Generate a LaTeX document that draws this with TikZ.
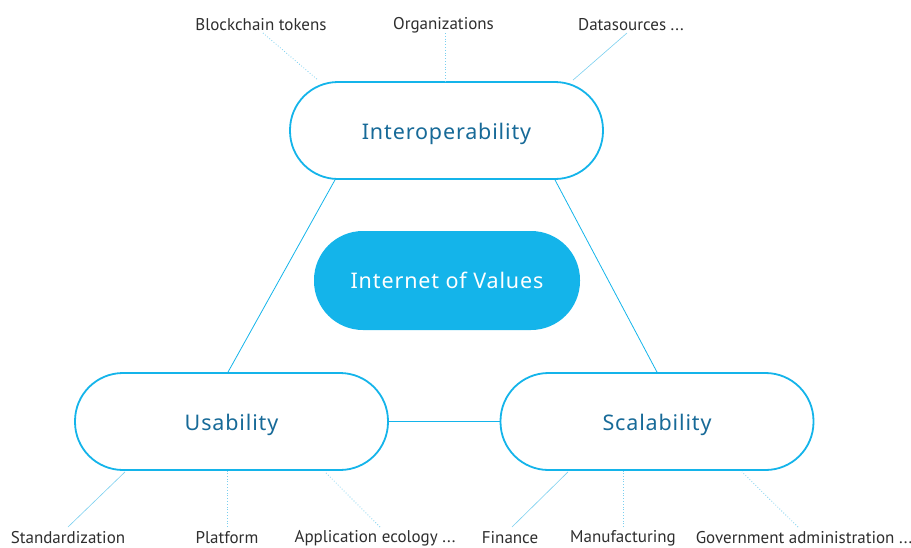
\documentclass[tikz,border=0pt]{standalone}
\usepackage{fontspec}
\setmainfont{PT Sans}
\newfontfamily\nodefont[LetterSpace=4]{Noto Sans}
\definecolor{cyanb}{HTML}{14B4EA}
\definecolor{darkt}{HTML}{176A98}
\definecolor{lbl}{HTML}{2E2E2E}
\definecolor{lead}{HTML}{7ACFEF}
\begin{document}
\begin{tikzpicture}[x=1pt,y=-1pt,
  pill/.style={draw=cyanb,line width=1.8pt,fill=white,rounded corners=48pt,minimum width=313pt,minimum height=97pt,inner sep=0pt,font=\nodefont\fontsize{21.5}{24}\selectfont,text=darkt,text height=17pt,text depth=0pt},
  core/.style={fill=cyanb,rounded corners=49pt,minimum width=266pt,minimum height=99pt,inner sep=0pt,font=\nodefont\fontsize{21.5}{24}\selectfont,text=white,text height=16pt,text depth=0pt},
  lab/.style={font=\fontsize{17}{20}\selectfont,text=lbl,inner sep=0pt},
  edge/.style={draw=cyanb,line width=0.8pt},
  leaddot/.style={draw=lead,line width=0.8pt,dotted},
  leadsolid/.style={draw=lead,line width=0.6pt}]
\useasboundingbox (0,0) rectangle (911,547);
\node[pill] (inter) at (446.5,130.5) {Interoperability};
\node[core] (iov) at (447,280.5) {Internet of Values};
\node[pill] (usab) at (231.5,421.5) {Usability};
\node[pill] (scal) at (657,421.5) {Scalability};
% edges
\draw[edge] ([xshift=-111.5pt]inter.south) -- ([xshift=-3.5pt]usab.north);
\draw[edge] ([xshift=108.5pt]inter.south) -- (scal.north);
\draw[edge] (usab.east) -- (scal.west);
% top labels
\node[lab] (bt) at (261,25) {Blockchain tokens};
\node[lab] (org) at (443.5,25) {Organizations};
\node[lab] (ds) at (631,25) {Datasources ...};
\coordinate (btp) at (263,33);
\coordinate (orgp) at (445,33);
\coordinate (dsp) at (627,33);
\draw[leaddot] (btp) -- ([xshift=-128.5pt,yshift=1pt]inter.north);
\draw[leaddot] (orgp) -- ([xshift=-1.5pt]inter.north);
\draw[leadsolid] (dsp) -- ([xshift=126.5pt,yshift=1pt]inter.north);
% bottom labels
\node[lab] (std) at (68,538) {Standardization};
\node[lab] (plat) at (227,538) {Platform};
\node[lab] (app) at (375,538) {Application ecology ...};
\node[lab] (fin) at (510,538) {Finance};
\node[lab] (man) at (623,538) {Manufacturing};
\node[lab] (gov) at (804,538) {Government administration ...};
\coordinate (stdp) at (68,527);
\coordinate (platp) at (227,527);
\coordinate (appp) at (380,527);
\coordinate (finp) at (512,527);
\coordinate (manp) at (623,527);
\coordinate (govp) at (798,527);
\draw[leadsolid] (stdp) -- ([xshift=-106.5pt,yshift=-1pt]usab.south);
\draw[leaddot] (platp) -- ([xshift=-4.5pt]usab.south);
\draw[leaddot] (appp) -- ([xshift=93.5pt,yshift=-1pt]usab.south);
\draw[leadsolid] (finp) -- ([xshift=-89pt,yshift=-1pt]scal.south);
\draw[leaddot] (manp) -- ([xshift=-34pt]scal.south);
\draw[leaddot] (govp) -- ([xshift=85pt,yshift=-1pt]scal.south);
\end{tikzpicture}
\end{document}
